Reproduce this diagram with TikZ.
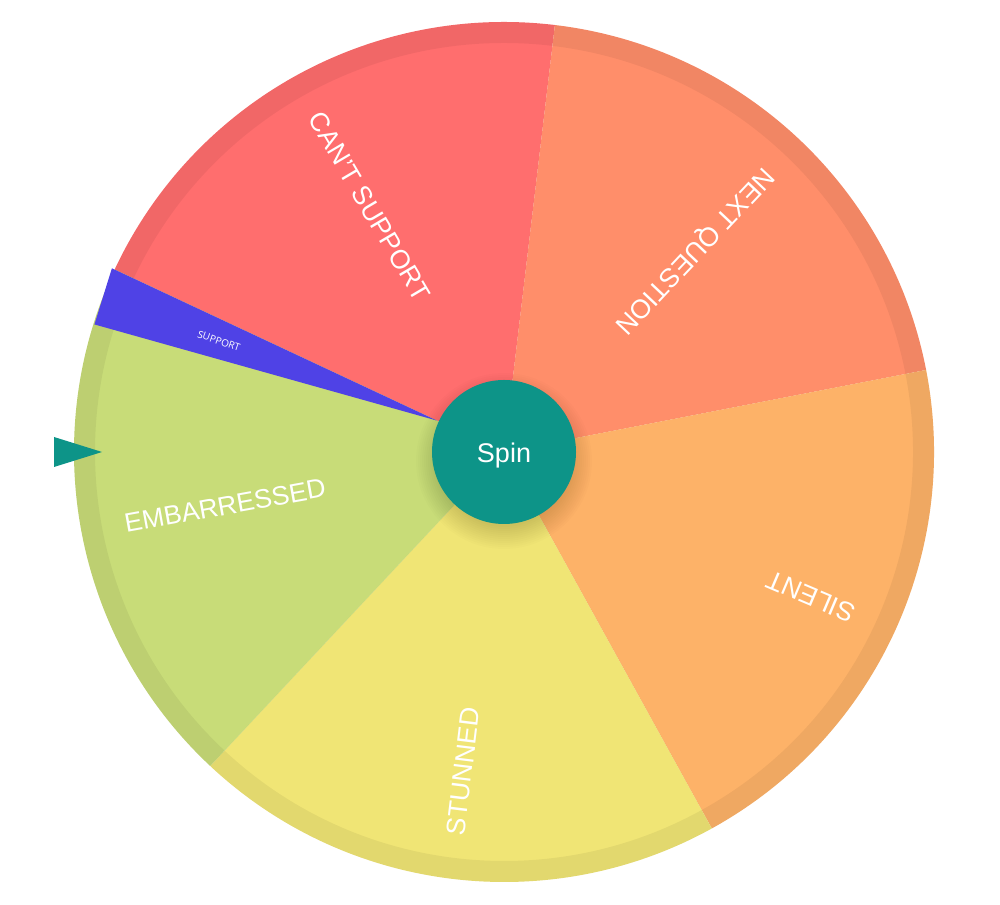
\documentclass[tikz,border=0pt]{standalone}
\usepackage{fontspec}
\setmainfont{Liberation Sans}
\newfontfamily\smallfam{Open Sans}
\definecolor{wheelred}{HTML}{FF6E6E}
\definecolor{wheelorange}{HTML}{FF8E6A}
\definecolor{wheelamber}{HTML}{FDB268}
\definecolor{wheelyellow}{HTML}{F0E575}
\definecolor{wheelgreen}{HTML}{C8DC78}
\definecolor{wheelblue}{HTML}{4F42E6}
\definecolor{wheelteal}{HTML}{0D9488}
\tikzset{
  x=1pt,y=1pt,
  rim/.style={fill=black,fill opacity=0.055},
  wheeltext/.style={text=white,font=\fontsize{26.6}{27}\selectfont,inner sep=0pt},
}
\newcommand{\wedgepart}[3]{%
  \fill[#1] (0,0) -- (#2:430pt) arc[start angle=#2,end angle=#3,radius=430pt] -- cycle;
  \fill[rim,even odd rule] (0,0) -- (#2:430pt) arc[start angle=#2,end angle=#3,radius=430pt] -- cycle
    (0,0) -- (#2:409pt) arc[start angle=#2,end angle=#3,radius=409pt] -- cycle;
}
\begin{document}
\begin{tikzpicture}
\useasboundingbox (0,0) rectangle (1000,904);
\fill[white] (0,0) rectangle (1000,904);
\begin{scope}[shift={(504,452)}]
  \wedgepart{wheelred}{83.2}{154.9}
  \wedgepart{wheelorange}{11}{83.2}
  \wedgepart{wheelamber}{-61.1}{11}
  \wedgepart{wheelyellow}{-133.1}{-61.1}
  \wedgepart{wheelgreen}{154.9}{226.9}
  \fill[wheelblue] (154.9:74pt) -- (154.9:433pt) -- (162.7:429pt) -- cycle;
  \foreach \r in {-6,-4,...,16}{
    \fill[black,opacity=0.012] (0,-9pt) circle[radius=72pt+\r pt];
  }
  \node[wheeltext,rotate=-59.5] (t1) at (118.7:280pt) {CAN'T SUPPORT};
  \node[wheeltext,rotate=-133.3] (t2) at (46.8:277pt) {NEXT QUESTION};
  \node[wheeltext,rotate=157] (t3) at (-25.2:339pt) {SILENT};
  \node[wheeltext,rotate=83] (t4) at (-97.3:322pt) {STUNNED};
  \node[wheeltext,rotate=10.3] (t5) at (190.9:284pt) {EMBARRESSED};
  \node[text=white,font=\smallfam\fontsize{10}{11}\selectfont,inner sep=0pt,rotate=-19] (t6) at (158.7:306pt) {SUPPORT};
  \node[circle,fill=wheelteal,minimum size=144pt,inner sep=0pt,text=white,font=\fontsize{27}{27}\selectfont,text depth=0pt,text height=20pt] (spin) at (0,0) {\raisebox{-0.5pt}{Spin}};
\end{scope}
\fill[wheelteal] (54,467) -- (102,452) -- (54,437) -- cycle;
\end{tikzpicture}
\end{document}
